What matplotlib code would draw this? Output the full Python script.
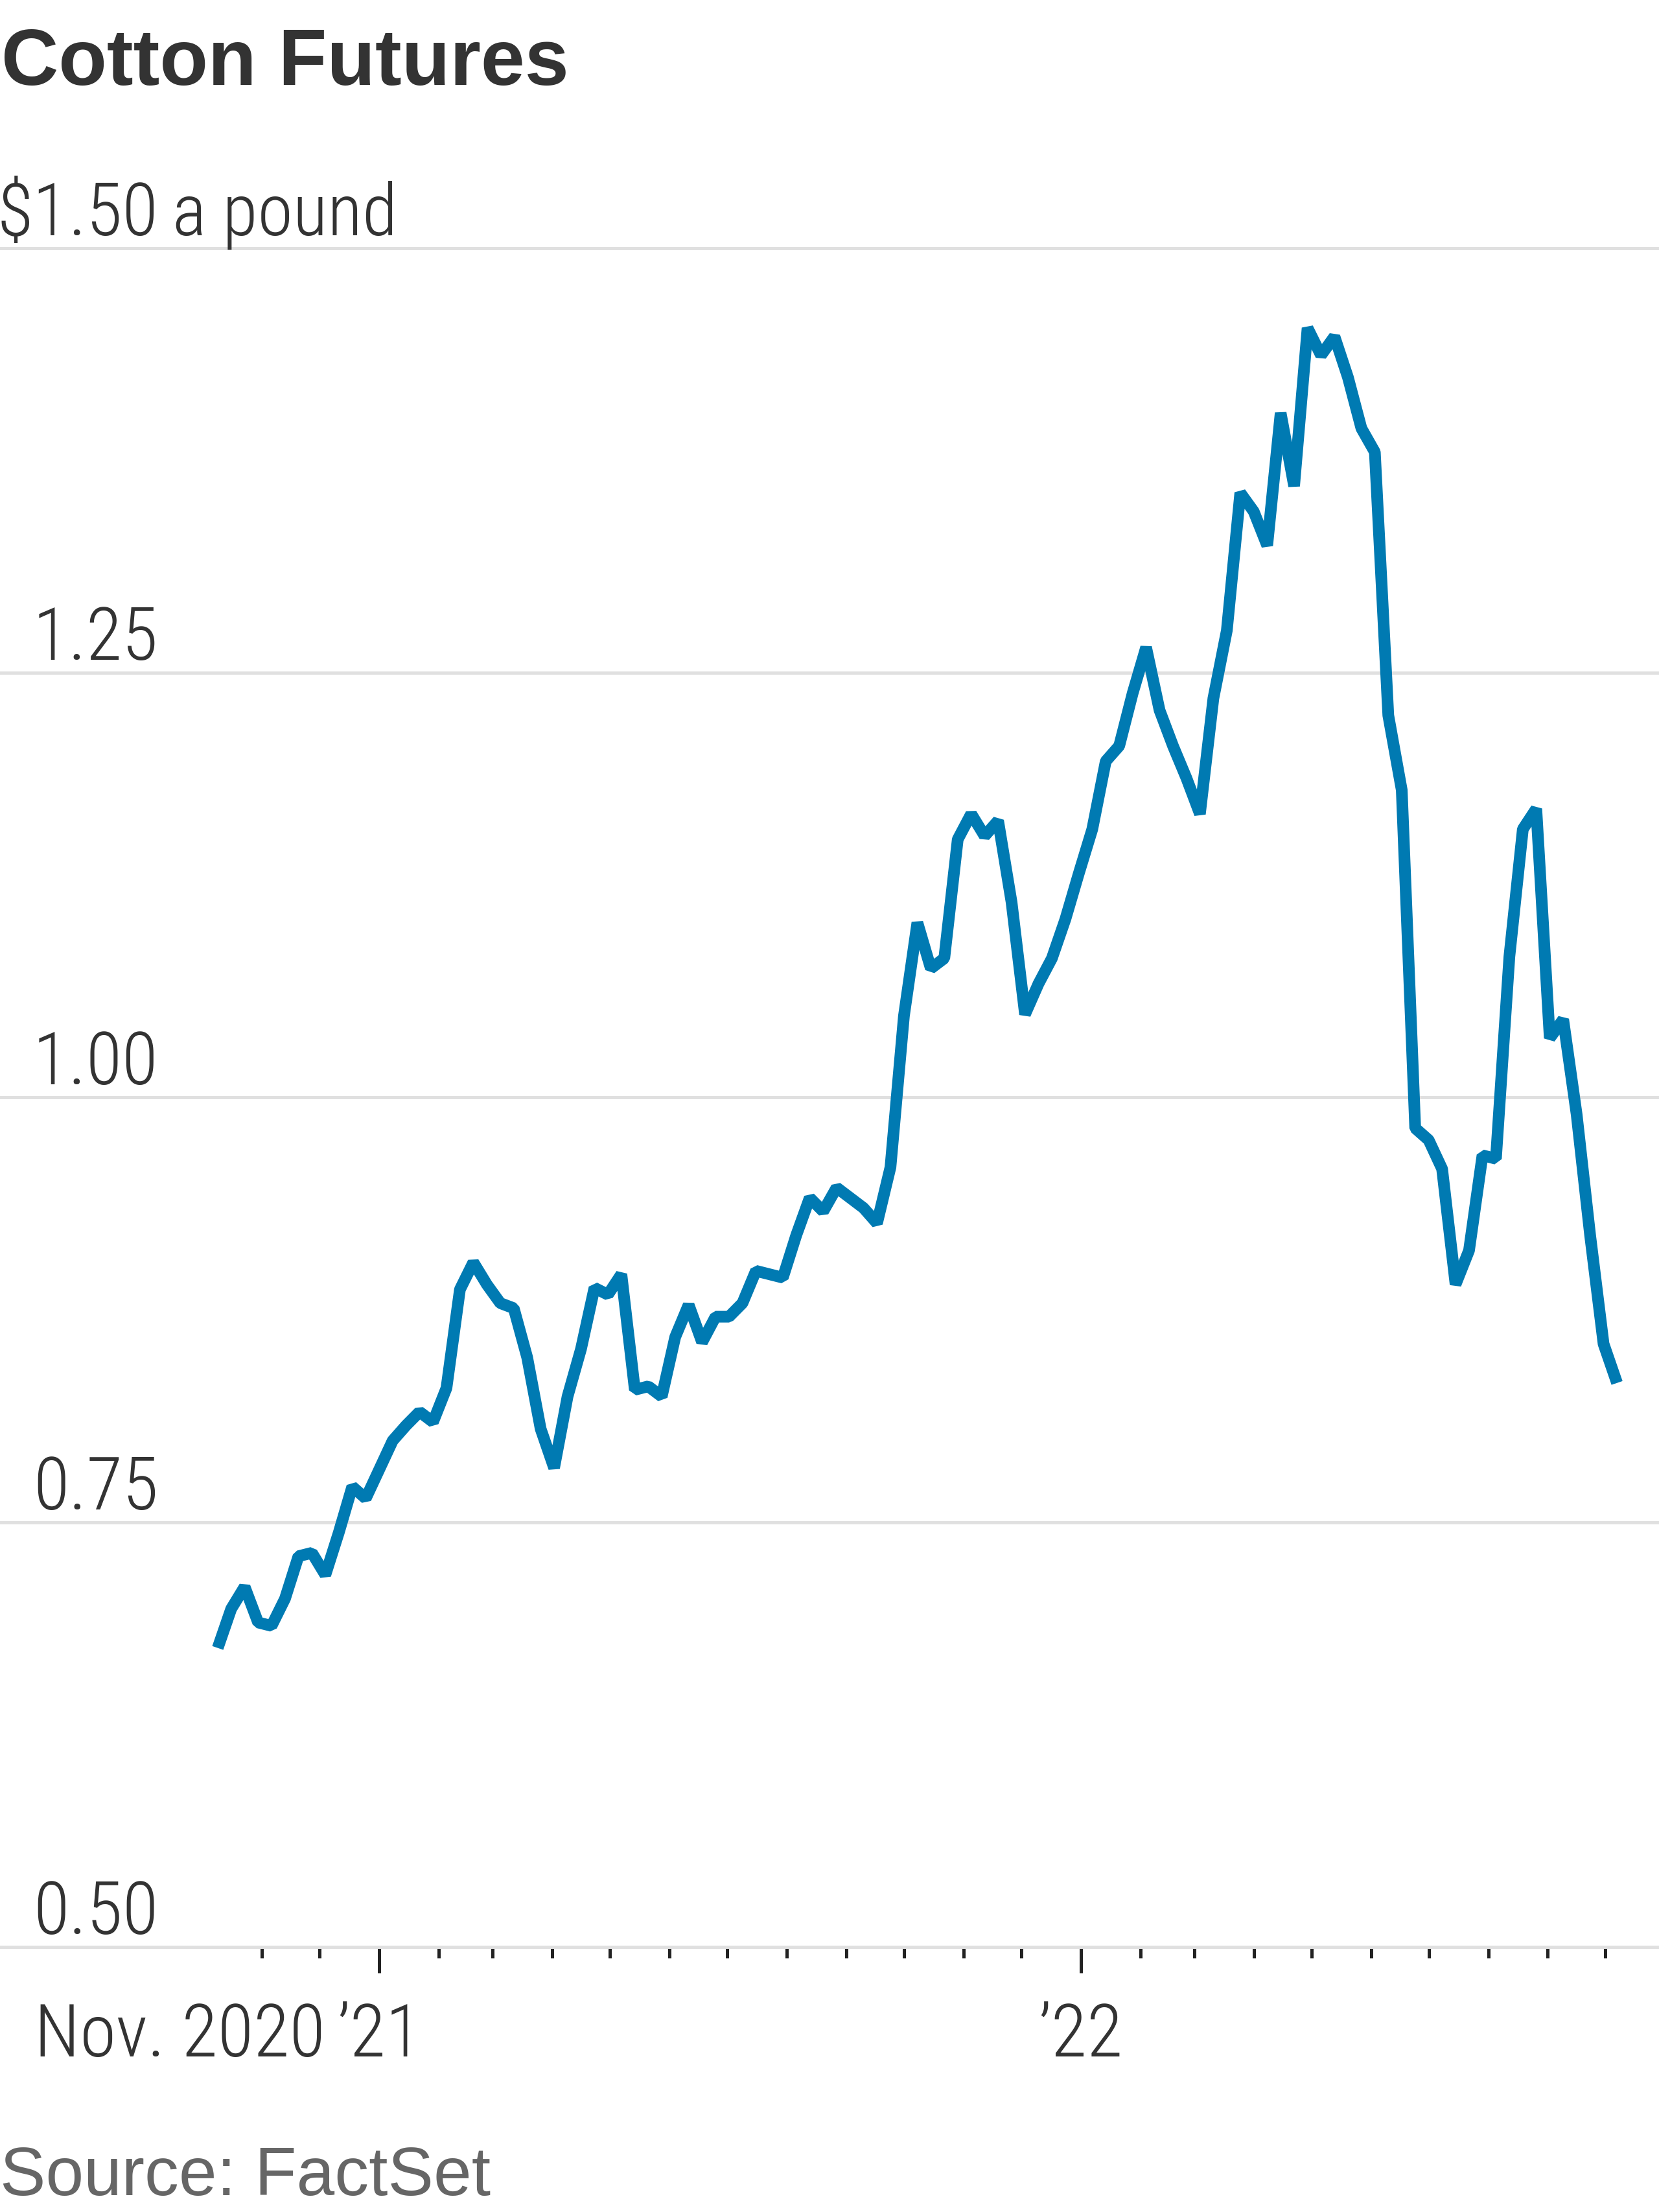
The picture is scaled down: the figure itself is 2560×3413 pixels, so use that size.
import os
import matplotlib
matplotlib.use('Agg')
import matplotlib.pyplot as plt
import matplotlib.dates as mdates
import matplotlib.transforms as mtransforms
from matplotlib import font_manager as fm
import pandas as pd

# weekly cotton futures, dollars a pound
weeks = pd.date_range('2020-10-09', periods=105, freq='7D')
price = [
    0.676, 0.699, 0.712, 0.691, 0.689, 0.705, 0.730, 0.732, 0.719, 0.744,
    0.771, 0.764, 0.781, 0.798, 0.807, 0.815, 0.809, 0.829, 0.887, 0.903,
    0.890, 0.879, 0.876, 0.847, 0.805, 0.782, 0.824, 0.852, 0.888, 0.884,
    0.896, 0.828, 0.830, 0.824, 0.859, 0.878, 0.856, 0.871, 0.871, 0.879,
    0.898, 0.896, 0.894, 0.919, 0.941, 0.933, 0.947, 0.941, 0.935, 0.926,
    0.959, 1.048, 1.103, 1.076, 1.082, 1.152, 1.167, 1.154, 1.163, 1.115,
    1.049, 1.067, 1.082, 1.105, 1.132, 1.158, 1.198, 1.207, 1.238, 1.265,
    1.228, 1.207, 1.188, 1.167, 1.235, 1.275, 1.356, 1.345, 1.325, 1.403,
    1.360, 1.453, 1.437, 1.448, 1.424, 1.394, 1.380, 1.225, 1.181, 0.982,
    0.975, 0.958, 0.890, 0.910, 0.966, 0.964, 1.083, 1.158, 1.170, 1.035,
    1.046, 0.990, 0.919, 0.855, 0.832,
]

y_ticks = [0.50, 0.75, 1.00, 1.25, 1.50]
y_labels = ['0.50', '0.75', '1.00', '1.25', '$1.50']
month_ticks = pd.date_range('2020-11-01', '2022-10-01', freq='MS')
year_ticks = pd.to_datetime(['2021-01-01', '2022-01-01'])
year_labels = ['\u201921', '\u201922']

# layout (pixels of the 2560x3413 output)
W, H, DPI = 2560, 3413, 200
PT = 72.0 / DPI          # points per pixel
Y_TOP, Y_BOT = 383, 3004  # pixel rows of 1.50 and 0.50
PX_PER_UNIT = (Y_BOT - Y_TOP) / (y_ticks[-1] - y_ticks[0])
PAD_Y = 0.02
X0_PX, PX_PER_DAY = 404.2, 2.966   # Nov 1 2020 position, scale

BLUE = '#007ab2'
DARK = '#333333'

# the axis labels are set in a narrow face; take the first one installed
NARROW_FILES = ['LiberationSansNarrow-Regular.ttf', 'NotoSans-CondensedLight.ttf',
                'NotoSans-Condensed.ttf', 'NotoSans-Condensed-Light.ttf',
                'OpenSans-CondensedLight.ttf', 'RobotoCondensed-Light.ttf',
                'RobotoCondensed-Regular.ttf', 'DejaVuSansCondensed.ttf']
found = {}
for path in list(fm.findSystemFonts()) + [f.fname for f in fm.fontManager.ttflist]:
    found.setdefault(os.path.basename(path), path)
narrow_path = next((found[n] for n in NARROW_FILES if n in found), None)


def narrow(size):
    if narrow_path:
        fp = fm.FontProperties(fname=narrow_path)
    else:
        fp = fm.FontProperties(family='DejaVu Sans', stretch='condensed')
    fp.set_size(size)
    return fp


LAB_SIZE = 41

fig = plt.figure(figsize=(W / DPI, H / DPI), dpi=DPI)
top_px = Y_TOP - PAD_Y * PX_PER_UNIT
bot_px = Y_BOT + PAD_Y * PX_PER_UNIT
ax = fig.add_axes([0, 1 - bot_px / H, 1, (bot_px - top_px) / H])

ax.plot(weeks, price, color=BLUE, lw=18 * PT, solid_joinstyle='bevel',
        solid_capstyle='butt', zorder=3, clip_on=False)

origin = mdates.date2num(pd.Timestamp('2020-11-01'))
ax.set_xlim(origin - X0_PX / PX_PER_DAY, origin + (W - X0_PX) / PX_PER_DAY)
ax.set_ylim(y_ticks[0] - PAD_Y, y_ticks[-1] + PAD_Y)

for side in ['top', 'right', 'left']:
    ax.spines[side].set_visible(False)
ax.spines['bottom'].set_position(('data', y_ticks[0]))
ax.spines['bottom'].set_color('none')

ax.set_yticks(y_ticks)
ax.yaxis.grid(True, color='#e0e0e0', lw=5 * PT, zorder=0)
ax.set_axisbelow(True)
ax.tick_params(axis='y', length=0, labelleft=False)

ax.set_xticks(month_ticks, minor=True)
ax.set_xticks(year_ticks)
ax.set_xticklabels(year_labels, fontproperties=narrow(LAB_SIZE), color=DARK)
MAJ_LEN, MIN_LEN, XPAD = 40, 17, 44
ax.tick_params(axis='x', which='major', length=MAJ_LEN * PT, width=5 * PT,
               color='#222222', pad=XPAD * PT)
ax.tick_params(axis='x', which='minor', length=MIN_LEN * PT, width=5 * PT,
               color='#222222')

# y labels sit above their gridlines
trans = mtransforms.blended_transform_factory(ax.transAxes, ax.transData)
lab_x = 244 / W
for val, lab in zip(y_ticks, y_labels):
    ax.annotate(lab, xy=(lab_x, val), xycoords=trans, xytext=(0, 20 * PT),
                textcoords='offset points', ha='right', va='baseline',
                fontproperties=narrow(LAB_SIZE), color=DARK)
ax.annotate('a pound', xy=(266 / W, y_ticks[-1]), xycoords=trans,
            xytext=(0, 20 * PT), textcoords='offset points', ha='left',
            va='baseline', fontproperties=narrow(LAB_SIZE - 1), color=DARK)

# first-date label left of '21
ax.annotate('Nov. 2020', xy=(502 / W, y_ticks[0]), xycoords=trans,
            xytext=(0, -(MAJ_LEN + XPAD) * PT), textcoords='offset points',
            ha='right', va='top', fontproperties=narrow(LAB_SIZE), color=DARK)

fig.text(2 / W, 1 - 131 / H, 'Cotton Futures', ha='left', va='baseline',
         fontsize=44, fontweight='bold', color=DARK,
         family=['Liberation Sans', 'DejaVu Sans'])
fig.text(0, 1 - 3387 / H, 'Source: FactSet', ha='left', va='baseline',
         fontsize=38, color='#666666', family=['Liberation Sans', 'DejaVu Sans'])

fig.savefig('out.png', dpi=DPI)
